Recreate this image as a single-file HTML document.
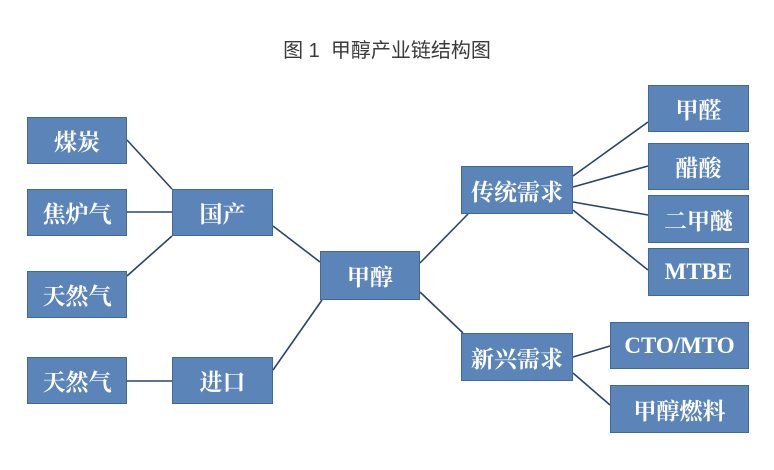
<!DOCTYPE html>
<html><head><meta charset="utf-8"><style>
body{margin:0;width:774px;height:470px;background:#fff;position:relative;overflow:hidden;font-family:"Liberation Serif","Noto Serif CJK SC","Noto Sans CJK SC",serif}
.b{position:absolute;background:#5b84b8;border:1.5px solid #41689a;box-sizing:border-box;color:#fff;font-size:23px;font-weight:bold;display:flex;align-items:center;justify-content:center}
.t{position:absolute;left:0;width:774px;top:34px;text-align:center;font-size:20px;color:#3a3a3a;font-family:"Liberation Sans","Noto Sans CJK SC",sans-serif}
svg{position:absolute;left:0;top:0}
</style></head><body>
<div class="t">图 1&nbsp; 甲醇产业链结构图</div>
<svg width="774" height="470"><g stroke="#2b4468" stroke-width="1.6">
<line x1="127" y1="140" x2="172" y2="189"/>
<line x1="127" y1="212" x2="172" y2="212"/>
<line x1="127" y1="276" x2="172" y2="236"/>
<line x1="273" y1="226" x2="320" y2="262"/>
<line x1="127" y1="381" x2="172" y2="381"/>
<line x1="273" y1="370" x2="322" y2="300"/>
<line x1="420" y1="263" x2="468" y2="214"/>
<line x1="420" y1="292" x2="463" y2="333"/>
<line x1="573" y1="176" x2="648" y2="122"/>
<line x1="573" y1="187" x2="648" y2="166"/>
<line x1="573" y1="202" x2="648" y2="215"/>
<line x1="573" y1="210" x2="648" y2="270"/>
<line x1="573" y1="357" x2="610" y2="346"/>
<line x1="573" y1="373" x2="610" y2="405"/>
</g></svg>
<div class="b" style="left:27px;top:117px;width:100px;height:47px">煤炭</div>
<div class="b" style="left:27px;top:189px;width:100px;height:47px">焦炉气</div>
<div class="b" style="left:27px;top:271px;width:100px;height:47px">天然气</div>
<div class="b" style="left:172px;top:189px;width:101px;height:47px">国产</div>
<div class="b" style="left:27px;top:357px;width:100px;height:47px">天然气</div>
<div class="b" style="left:172px;top:357px;width:101px;height:47px">进口</div>
<div class="b" style="left:320px;top:251px;width:100px;height:49px">甲醇</div>
<div class="b" style="left:461px;top:166px;width:112px;height:48px">传统需求</div>
<div class="b" style="left:461px;top:333px;width:112px;height:48px">新兴需求</div>
<div class="b" style="left:648px;top:85px;width:101px;height:47px">甲醛</div>
<div class="b" style="left:648px;top:143px;width:101px;height:47px">醋酸</div>
<div class="b" style="left:648px;top:195px;width:101px;height:48px">二甲醚</div>
<div class="b" style="left:648px;top:248px;width:101px;height:48px">MTBE</div>
<div class="b" style="left:610px;top:322px;width:139px;height:47px">CTO/MTO</div>
<div class="b" style="left:610px;top:385px;width:139px;height:48px">甲醇燃料</div>
</body></html>
